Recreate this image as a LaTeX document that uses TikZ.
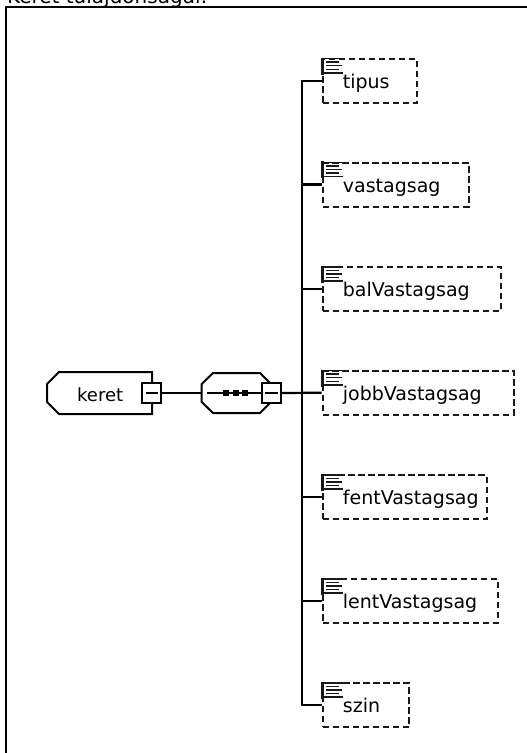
\documentclass[tikz,border=0pt]{standalone}
\usepackage{fontspec}
\setmainfont{DejaVu Sans}
\begin{document}
\begin{tikzpicture}[x=1pt,y=-1pt,
  conn/.style={line width=2.2pt, black},
  outl/.style={line width=2pt, black},
  attrbox/.style={draw=black!90, line width=2pt, dash pattern=on 6.5pt off 3.5pt,
    minimum height=44pt, inner sep=0pt, anchor=west},
  minusbox/.style={draw=black, fill=white, line width=2pt, minimum width=19pt,
    minimum height=20pt, inner sep=0pt},
  lbl/.style={font=\fontsize{19}{21}\selectfont, inner sep=0pt, anchor=base west},
  docicon/.pic={
    \fill[black!90] (-1,-1) rectangle (1.8,16);
    \foreach \yy/\xa/\xb in {0/0/21, 3.6/4/17, 7.2/4/20, 10.8/4/17, 14.4/0/21}
      \draw[line width=1.5pt, black!90] (\xa,\yy) -- (\xb,\yy);
  }
]
\useasboundingbox (0,0) rectangle (527,753);

% title (cut off at the top)
\node[anchor=base west, inner sep=0pt, font=\fontsize{20}{22}\selectfont] (title) at (7,3) {Keret tulajdonságai:};
% frame
\draw[line width=2.2pt] (5.7,770) -- (5.7,6.7) -- (540,6.7);

% keret element
\draw[outl, fill=white] (152,372) -- (59,372) -- (47,384) -- (47,402) -- (59,414) -- (152,414) -- cycle;
\node[anchor=base west, inner sep=0pt, font=\fontsize{18}{20}\selectfont] (keret) at (77,401.5) {keret};
\node[minusbox] (km) at (151.5,393) {};
\draw[outl] ([xshift=4.5pt]km.west) -- ([xshift=-4pt]km.east);

% sequence compositor
\draw[outl, fill=white] (213,373) -- (260,373) -- (271,384) -- (271,402) -- (260,413) -- (213,413) -- (201.7,402) -- (201.7,384) -- cycle;
\coordinate (seqL) at (201.7,393);
\coordinate (seqIn) at (207,393);
\node[minusbox] (sm) at (271.2,393) {};
\draw[outl] ([xshift=4.5pt]sm.west) -- ([xshift=-4pt]sm.east);
\draw[conn] (seqIn) -- (sm.west);
\fill (223.3,390.3) rectangle (229.3,396.2);
\fill (232.7,390.3) rectangle (238.7,396.2);
\fill (242.3,390.3) rectangle (248.3,396.2);
\draw[conn] (km.east) -- (seqL);

% attribute boxes
\node[attrbox, minimum width=94.3pt]  (tipus) at (321.7,80.7) {};
\node[attrbox, minimum width=146pt]   (vast)  at (321.7,184.5) {};
\node[attrbox, minimum width=178.3pt] (bal)   at (321.7,289) {};
\node[attrbox, minimum width=191pt]   (jobb)  at (321.7,392.7) {};
\node[attrbox, minimum width=164pt]   (fent)  at (321.7,497) {};
\node[attrbox, minimum width=175.3pt] (lent)  at (321.7,601) {};
\node[attrbox, minimum width=86.6pt]  (szin)  at (321.7,705) {};

\foreach \n in {tipus,vast,bal,jobb,fent,lent,szin}
  \pic at ([xshift=0.3pt,yshift=-0.8pt]\n.north west) {docicon};

\node[lbl] (tipusT) at (342.7,88) {tipus};
\node[lbl] (vastT)  at (342.7,192) {vastagsag};
\node[lbl] (balT)   at (342.7,296.5) {balVastagsag};
\node[lbl] (jobbT)  at (342.7,400.2) {jobbVastagsag};
\node[lbl] (fentT)  at (342.7,504.5) {fentVastagsag};
\node[lbl] (lentT)  at (342.7,608.5) {lentVastagsag};
\node[lbl] (szinT)  at (342.7,712.5) {szin};

% trunk and branches
\coordinate (trunk) at (302,0);
\draw[conn] (tipus.west) -- (tipus.west -| trunk) -- (szin.west -| trunk) -- (szin.west);
\foreach \n in {vast,bal,fent,lent}
  \draw[conn] (\n.west -| trunk) -- (\n.west);
\draw[conn] (sm.east) -- (jobb.west);
\end{tikzpicture}
\end{document}
